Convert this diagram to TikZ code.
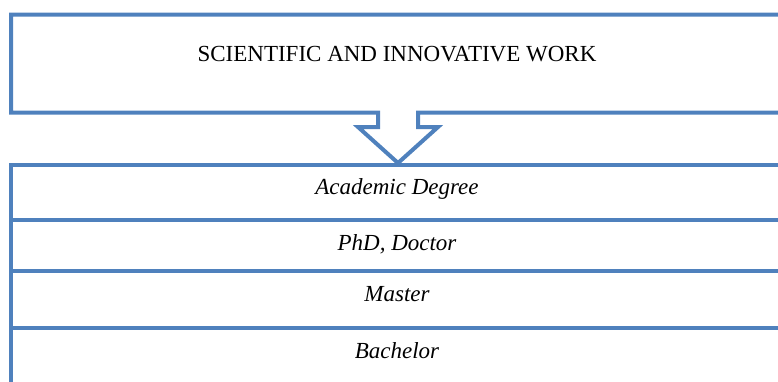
\documentclass[tikz,border=0pt]{standalone}
\usepackage{fontspec}
\setmainfont{Liberation Serif}
\definecolor{wordblue}{HTML}{4F81BD}

\begin{document}
\begin{tikzpicture}[x=1pt, y=-1pt, line width=4pt]
\useasboundingbox (0,0) rectangle (778,381);
\clip (0,0) rectangle (778,381);
\tikzset{rung/.style={color=wordblue, line join=miter},
         lbl/.style={font=\fontsize{23}{27}\selectfont, inner sep=0pt}}
% upper box with the hollow arrow cut into its lower edge
\draw[rung] (800,14.5) -- (11,14.5) -- (11,112.5) -- (378,112.5) -- (378,127)
  -- (358,127) -- (398,163) -- (438,127) -- (418,127) -- (418,112.5) -- (800,112.5);
\node[lbl] (work) at (397,54) {SCIENTIFIC AND INNOVATIVE WORK};
% table of degrees, open on the right
\draw[rung] (800,165) -- (11,165) -- (11,400);
\draw[rung] (11,220) -- (800,220);
\draw[rung] (11,271) -- (800,271);
\draw[rung] (11,328) -- (800,328);
\node[lbl] (degree) at (397,189) {\itshape Academic Degree};
\node[lbl] (phd) at (397,244) {\itshape PhD, Doctor};
\node[lbl] (master) at (397,294) {\itshape Master};
\node[lbl] (bachelor) at (397,351) {\itshape Bachelor};
\end{tikzpicture}
\end{document}
